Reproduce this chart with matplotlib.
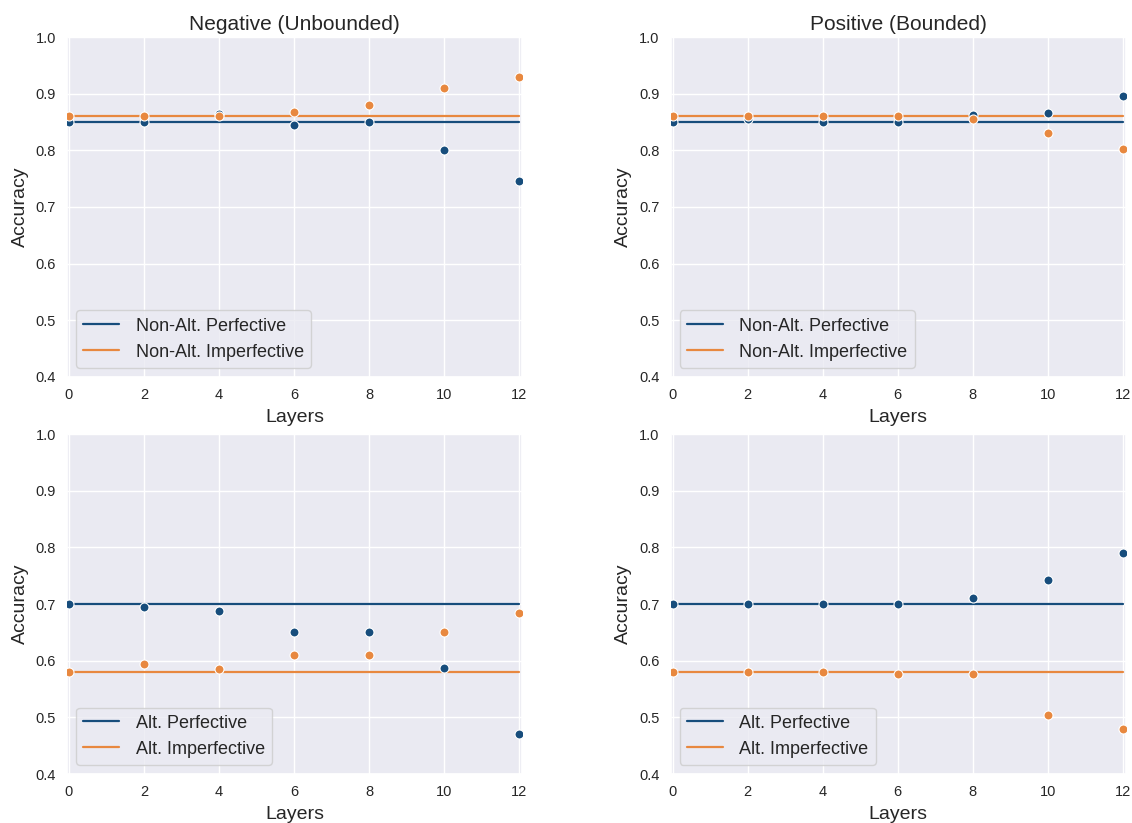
import matplotlib
matplotlib.use("Agg")
import matplotlib.pyplot as plt
import seaborn as sns
import numpy as np

sns.set_theme(style="darkgrid")
plt.rcParams['font.family'] = ['Liberation Sans', 'DejaVu Sans']

layers = [0, 2, 4, 6, 8, 10, 12]

# Negative (Unbounded), non-alternating
neg_perf_baseline = 0.85
neg_imperf_baseline = 0.86
neg_perf = [0.850, 0.850, 0.865, 0.845, 0.850, 0.800, 0.745]
neg_imperf = [0.860, 0.860, 0.860, 0.867, 0.880, 0.910, 0.930]

# Positive (Bounded), non-alternating
pos_perf_baseline = 0.85
pos_imperf_baseline = 0.86
pos_perf = [0.850, 0.855, 0.850, 0.850, 0.862, 0.866, 0.896]
pos_imperf = [0.860, 0.860, 0.860, 0.860, 0.855, 0.830, 0.803]

# Negative (Unbounded), alternating
neg_alt_perf_baseline = 0.70
neg_alt_imperf_baseline = 0.58
neg_alt_perf = [0.700, 0.694, 0.687, 0.650, 0.650, 0.587, 0.470]
neg_alt_imperf = [0.580, 0.594, 0.585, 0.610, 0.610, 0.651, 0.685]

# Positive (Bounded), alternating
pos_alt_perf_baseline = 0.70
pos_alt_imperf_baseline = 0.58
pos_alt_perf = [0.700, 0.700, 0.700, 0.700, 0.710, 0.743, 0.790]
pos_alt_imperf = [0.580, 0.580, 0.580, 0.576, 0.576, 0.505, 0.480]

titles = ["Negative (Unbounded)", "Positive (Bounded)"]
BLUE = "#174d7c"
ORANGE = "#e8883f"

fig = plt.figure(figsize=(11.32, 8.23), dpi=100)
lw, aw, ah = 0.0592, 0.402, 0.413
rx = 0.5925
ty, by = 0.542, 0.0595
axes = [
    fig.add_axes([lw, ty, aw, ah]),
    fig.add_axes([rx, ty, aw, ah]),
    fig.add_axes([lw, by, aw, ah]),
    fig.add_axes([rx, by, aw, ah]),
]

panels = [
    (neg_perf_baseline, neg_imperf_baseline, neg_perf, neg_imperf,
     "Non-Alt. Perfective", "Non-Alt. Imperfective"),
    (pos_perf_baseline, pos_imperf_baseline, pos_perf, pos_imperf,
     "Non-Alt. Perfective", "Non-Alt. Imperfective"),
    (neg_alt_perf_baseline, neg_alt_imperf_baseline, neg_alt_perf, neg_alt_imperf,
     "Alt. Perfective", "Alt. Imperfective"),
    (pos_alt_perf_baseline, pos_alt_imperf_baseline, pos_alt_perf, pos_alt_imperf,
     "Alt. Perfective", "Alt. Imperfective"),
]

for i, (ax, (pb, ib, pv, iv, pl, il)) in enumerate(zip(axes, panels)):
    ax.plot([layers[0], layers[-1]], [pb, pb], color=BLUE, lw=1.6, label=pl, zorder=2)
    ax.plot([layers[0], layers[-1]], [ib, ib], color=ORANGE, lw=1.6, label=il, zorder=2)
    ax.scatter(layers, pv, color=BLUE, s=42, edgecolor="white", linewidth=0.8, zorder=3)
    ax.scatter(layers, iv, color=ORANGE, s=42, edgecolor="white", linewidth=0.8, zorder=3)
    ax.set_xlim(-0.05, 12.08)
    ax.set_ylim(0.4, 1.0)
    ax.set_xticks(layers)
    ax.set_yticks(np.arange(0.4, 1.01, 0.1))
    ax.set_yticklabels([f"{v:.1f}" for v in np.arange(0.4, 1.01, 0.1)])
    ax.tick_params(axis="both", labelsize=10.5, colors="#262626", length=0, pad=8)
    ax.set_xlabel("Layers", fontsize=14, labelpad=5, color="#262626")
    ax.set_ylabel("Accuracy", fontsize=14, labelpad=5, color="#262626")
    if i < 2:
        ax.set_title(titles[i], fontsize=15, pad=5, color="#262626")
    ax.legend(loc="lower left", fontsize=13, handlelength=2.0, borderpad=0.4,
              handletextpad=0.9, frameon=True)

fig.savefig("out.png", dpi=100)
